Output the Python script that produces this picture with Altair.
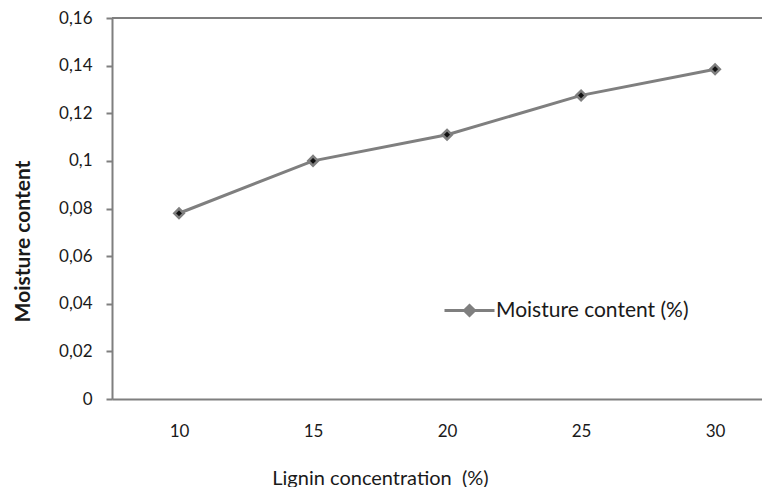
import altair as alt
import pandas as pd

lignin = [10, 15, 20, 25, 30]
moisture = [0.078, 0.100, 0.111, 0.1275, 0.1385]
series_name = "Moisture content (%)"
y_ticks = [0, 0.02, 0.04, 0.06, 0.08, 0.1, 0.12, 0.14, 0.16]

df = pd.DataFrame({"lignin": lignin, "moisture": moisture, "series": [series_name] * len(lignin)})

FONT = "Lato"
GRAY = "#7f7f7f"
TXT = "#1a1a1a"

x_enc = alt.X(
    "lignin:Q",
    scale=alt.Scale(domain=[7.5, 31.75], nice=False, zero=False),
    axis=alt.Axis(
        values=lignin, format="d", ticks=False, grid=False,
        domainColor=GRAY, domainWidth=2,
        labelFont=FONT, labelFontSize=17, labelColor=TXT, labelPadding=24,
        title="Lignin concentration\u00a0 (%)", titleFont=FONT, titleFontSize=20,
        titleFontWeight="normal", titleColor=TXT,
        titleX=268, titleY=79, titleBaseline="middle", titleAnchor="start", titleAlign="center",
    ),
)
y_enc = alt.Y(
    "moisture:Q",
    scale=alt.Scale(domain=[0, 0.16], nice=False),
    axis=alt.Axis(
        values=y_ticks, grid=False, domainColor=GRAY, domainWidth=2,
        tickColor=GRAY, tickWidth=2, tickSize=6,
        labelExpr="replace(format(datum.value, '.2~f'), '.', ',')",
        labelFont=FONT, labelFontSize=17, labelColor=TXT, labelPadding=14,
        title="Moisture content", titleFont=FONT, titleFontSize=21,
        titleFontWeight="bold", titleColor=TXT,
        titleX=-89, titleY=223, titleBaseline="middle", titleAngle=-90, titleAlign="center",
    ),
)

base = alt.Chart(df)

line = base.mark_line(strokeWidth=3).encode(
    x=x_enc,
    y=y_enc,
    color=alt.Color(
        "series:N",
        scale=alt.Scale(range=[GRAY]),
        legend=alt.Legend(
            title=None, orient="none", legendX=331, legendY=266,
            symbolType="M-1,0H1M-0.2,0L0,-0.2L0.2,0L0,0.2ZM-0.1,0L0,-0.1L0.1,0L0,0.1Z",
            symbolSize=2500, symbolStrokeWidth=3, symbolStrokeColor=GRAY,
            symbolFillColor="#111",
            labelFont=FONT, labelFontSize=21, labelColor=TXT, labelOffset=0,
            labelLimit=400,
        ),
    ),
)

points = base.mark_point(
    shape="diamond", size=90, filled=True, fill="#111", stroke=GRAY, strokeWidth=2.5, opacity=1
).encode(x="lignin:Q", y="moisture:Q")

top_border = alt.Chart(pd.DataFrame({"top": [0.16]})).mark_rule(color=GRAY, strokeWidth=2).encode(
    y=alt.Y("top:Q")
)

chart = (
    alt.layer(top_border, line, points)
    .properties(
        width=650,
        height=381,
        autosize=alt.AutoSizeParams(type="none"),
        padding={"left": 104, "top": 10, "right": 0, "bottom": 88},
    )
    .configure_view(stroke=None)
    .configure(background="white")
)

chart.save("out.html", embed_options={"renderer": "svg", "actions": False})
